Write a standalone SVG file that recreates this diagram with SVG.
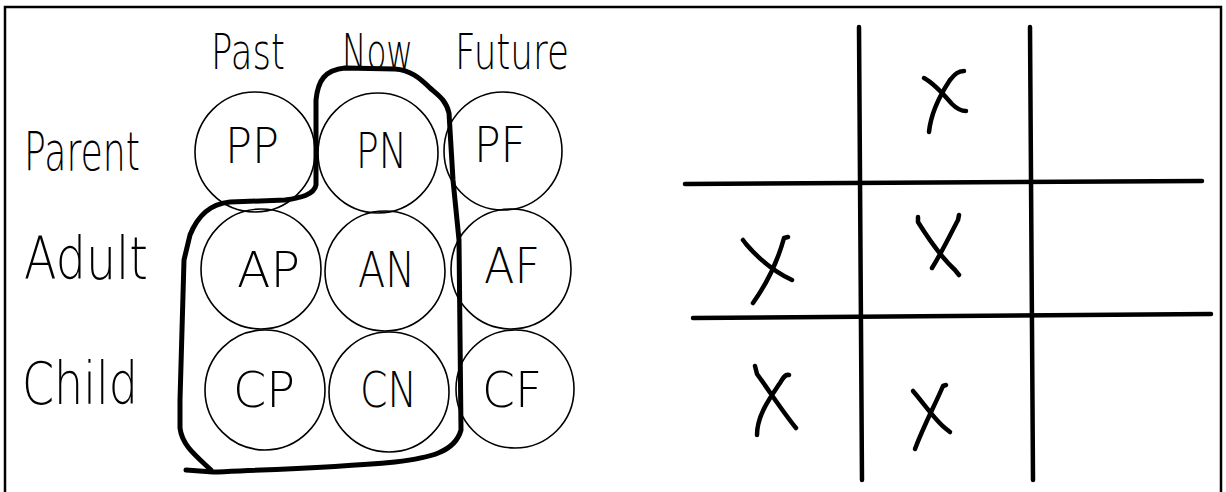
<svg xmlns="http://www.w3.org/2000/svg" width="1226" height="492" viewBox="0 0 1226 492">
<style>
.frame{fill:none;stroke:#000;stroke-width:2.5}
.cell circle{fill:none;stroke:#000;stroke-width:1.6}
.hw{font-family:"DejaVu Sans","Liberation Sans",sans-serif;font-weight:200;fill:#000}
.lbl{font-size:50px}
.hdr{font-size:50px}
.row{font-size:58px}
.loop{fill:none;stroke:#000;stroke-width:5;stroke-linecap:round;stroke-linejoin:round}
.grid{fill:none;stroke:#000;stroke-width:4.5;stroke-linecap:round}
.x{fill:none;stroke:#000;stroke-width:4.5;stroke-linecap:round;stroke-linejoin:round}
</style>
<rect x="0" y="0" width="1226" height="492" fill="#fff"/>
<path class="frame" d="M5,495 L5,7 L1221,7 L1221,495"/>

<g id="headers">
<text class="hw hdr" x="211" y="69" textLength="74" lengthAdjust="spacingAndGlyphs">Past</text>
<text class="hw hdr" x="342" y="69" textLength="71" lengthAdjust="spacingAndGlyphs">Now</text>
<text class="hw hdr" x="455" y="69" textLength="114" lengthAdjust="spacingAndGlyphs">Future</text>
<text class="hw row" x="24" y="170" textLength="116" lengthAdjust="spacingAndGlyphs" style="font-size:54px">Parent</text>
<text class="hw row" x="24" y="279" textLength="124" lengthAdjust="spacingAndGlyphs">Adult</text>
<text class="hw row" x="22" y="404" textLength="116" lengthAdjust="spacingAndGlyphs">Child</text>
</g>

<g id="PP" class="cell"><circle cx="255" cy="152" r="60"/><text class="hw lbl" x="225" y="163" textLength="54" lengthAdjust="spacingAndGlyphs">PP</text></g>
<g id="PN" class="cell"><circle cx="378" cy="153" r="60"/><text class="hw lbl" x="356" y="168" textLength="51" lengthAdjust="spacingAndGlyphs">PN</text></g>
<g id="PF" class="cell"><circle cx="503" cy="151" r="59"/><text class="hw lbl" x="474" y="162" textLength="52" lengthAdjust="spacingAndGlyphs">PF</text></g>
<g id="AP" class="cell"><circle cx="261" cy="269" r="60"/><text class="hw lbl" x="237" y="287" textLength="63" lengthAdjust="spacingAndGlyphs">AP</text></g>
<g id="AN" class="cell"><circle cx="385" cy="271" r="60"/><text class="hw lbl" x="358" y="287" textLength="57" lengthAdjust="spacingAndGlyphs">AN</text></g>
<g id="AF" class="cell"><circle cx="511" cy="269" r="60"/><text class="hw lbl" x="484" y="283" textLength="56" lengthAdjust="spacingAndGlyphs">AF</text></g>
<g id="CP" class="cell"><circle cx="265" cy="390" r="60"/><text class="hw lbl" x="233" y="407" textLength="62" lengthAdjust="spacingAndGlyphs">CP</text></g>
<g id="CN" class="cell"><circle cx="389" cy="392" r="60"/><text class="hw lbl" x="360" y="407" textLength="57" lengthAdjust="spacingAndGlyphs">CN</text></g>
<g id="CF" class="cell"><circle cx="515" cy="389" r="59"/><text class="hw lbl" x="482" y="407" textLength="60" lengthAdjust="spacingAndGlyphs">CF</text></g>

<g id="connectors">
<path class="loop" d="M186,470 L213,472 C260,470 330,468 395,462 C430,458 455,452 461,430 L459,240 L453,180 L449,113 C446,100 438,95 430,88 C420,78 410,70 395,69 L345,68 C325,70 318,80 316,100 L316,185 C314,195 300,198 285,200 L230,202 C210,204 198,215 190,235 L184,260 L180,400 L180,428 C182,445 195,455 211,470"/>
</g>

<g id="tictactoe">
<path class="grid" d="M859,27 L862,480"/>
<path class="grid" d="M1030,27 L1033,480"/>
<path class="grid" d="M685,184 L1202,181"/>
<path class="grid" d="M693,318 L1211,314"/>
<path class="x" d="M924,78 C935,84 945,96 952,104 C957,109 962,111 966,111 M964,71 C958,71 955,74 950,80 C940,95 931,112 929,132"/>
<path class="x" d="M918,217 L918,222 C928,238 942,258 955,270 L959,275 M959,215 L958,220 C950,235 942,252 932,268"/>
<path class="x" d="M743,240 L746,244 C758,258 775,272 792,280 M788,237 L784,238 C778,260 768,282 753,303"/>
<path class="x" d="M755,366 L757,374 C770,392 783,412 796,428 M789,375 C785,374 783,378 780,383 C770,398 757,415 757,435"/>
<path class="x" d="M913,391 C925,405 935,420 945,428 L950,432 M946,385 L943,386 C935,405 924,425 915,449"/>
</g>
</svg>
